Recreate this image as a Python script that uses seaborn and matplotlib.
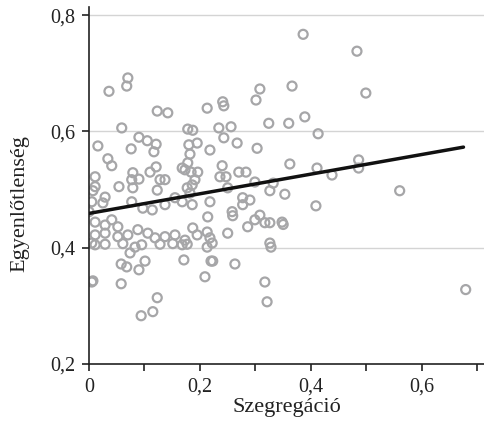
import numpy as np
import pandas as pd
import matplotlib
matplotlib.use("Agg")
import matplotlib.pyplot as plt
import seaborn as sns
from matplotlib.ticker import MultipleLocator, FuncFormatter

# Szegregáció (x) és egyenlőtlenség (y) értékek
szegregacio = [
    0.036, 0.070, 0.068, 0.123, 0.142, 0.059, 0.213, 0.241, 0.243, 0.308,
    0.301, 0.366, 0.324, 0.360, 0.234, 0.256, 0.386, 0.483, 0.499, 0.389,
    0.178, 0.187, 0.413,
    0.016, 0.090, 0.105, 0.121, 0.117, 0.076, 0.034, 0.041, 0.180, 0.195,
    0.182, 0.218, 0.243, 0.267, 0.303, 0.011, 0.011, 0.054, 0.079, 0.077,
    0.090, 0.079, 0.110, 0.121, 0.128, 0.137, 0.123, 0.168, 0.173, 0.178,
    0.184, 0.196, 0.191, 0.240, 0.236, 0.247, 0.270, 0.283, 0.299, 0.362,
    0.411, 0.438, 0.486, 0.486, 0.332, 0.326, 0.353, 0.560, 0.409, 0.250,
    0.186, 0.177, 0.007,
    0.000, 0.005, 0.029, 0.025, 0.077, 0.097, 0.114, 0.137, 0.155, 0.168,
    0.186, 0.182, 0.218, 0.277, 0.290, 0.277, 0.348, 0.350, 0.326, 0.214,
    0.258, 0.259, 0.308, 0.299, 0.286, 0.317, 0.011, 0.029, 0.041, 0.052,
    0.011, 0.029, 0.052, 0.070, 0.088, 0.106, 0.119, 0.137, 0.155, 0.173,
    0.187, 0.195, 0.213, 0.218, 0.250, 0.005, 0.011, 0.029, 0.061, 0.095,
    0.128, 0.151, 0.168, 0.177, 0.326, 0.222, 0.213, 0.328,
    0.007, 0.005, 0.058, 0.058, 0.068, 0.090, 0.101, 0.074, 0.083, 0.171,
    0.209, 0.220, 0.223, 0.263, 0.317, 0.321, 0.123, 0.115, 0.094, 0.679,
]
egyenlotlenseg = [
    0.669, 0.692, 0.678, 0.635, 0.632, 0.606, 0.640, 0.651, 0.644, 0.673,
    0.654, 0.678, 0.614, 0.614, 0.606, 0.608, 0.767, 0.738, 0.666, 0.625,
    0.604, 0.602, 0.596,
    0.575, 0.590, 0.584, 0.578, 0.565, 0.570, 0.553, 0.541, 0.577, 0.580,
    0.561, 0.568, 0.589, 0.580, 0.571, 0.522, 0.505, 0.505, 0.529, 0.517,
    0.518, 0.503, 0.530, 0.539, 0.517, 0.517, 0.499, 0.537, 0.534, 0.546,
    0.530, 0.530, 0.517, 0.541, 0.522, 0.522, 0.530, 0.530, 0.513, 0.544,
    0.537, 0.525, 0.551, 0.537, 0.511, 0.498, 0.492, 0.498, 0.472, 0.503,
    0.508, 0.503, 0.498,
    0.462, 0.479, 0.487, 0.477, 0.479, 0.468, 0.465, 0.474, 0.486, 0.479,
    0.474, 0.494, 0.479, 0.486, 0.482, 0.474, 0.444, 0.440, 0.443, 0.453,
    0.462, 0.455, 0.456, 0.448, 0.436, 0.443, 0.444, 0.439, 0.448, 0.436,
    0.422, 0.425, 0.419, 0.422, 0.431, 0.425, 0.417, 0.419, 0.422, 0.413,
    0.434, 0.422, 0.427, 0.417, 0.425, 0.408, 0.405, 0.406, 0.407, 0.405,
    0.406, 0.407, 0.405, 0.406, 0.408, 0.408, 0.401, 0.401,
    0.343, 0.341, 0.338, 0.372, 0.367, 0.362, 0.377, 0.391, 0.401, 0.379,
    0.350, 0.377, 0.377, 0.372, 0.341, 0.307, 0.314, 0.290, 0.283, 0.328,
]

# illesztett egyenes végpontjai
illesztes_x = [0.0, 0.675]
illesztes_y = [0.459, 0.573]

df = pd.DataFrame({"Szegregáció": szegregacio, "Egyenlőtlenség": egyenlotlenseg})
fit_df = pd.DataFrame({"x": illesztes_x, "y": illesztes_y})

sns.set_style("white")
plt.rcParams["font.family"] = ["Liberation Serif", "DejaVu Serif"]

fig = plt.figure(figsize=(4.84, 4.33), dpi=100)
ax = fig.add_axes([89 / 484, 69 / 433, 1 - 89 / 484, (364 - 7) / 433])

ax.axhline(0.4, color="#d4d4d4", lw=1.0, zorder=0)
ax.axhline(0.6, color="#d4d4d4", lw=1.0, zorder=0)
ax.axhline(0.8, color="#d4d4d4", lw=1.0, zorder=0)

sns.scatterplot(data=df, x="Szegregáció", y="Egyenlőtlenség", ax=ax,
                marker="o", s=42, facecolor="none", edgecolor="#a6a6a8",
                linewidth=1.6, zorder=2)
sns.lineplot(data=fit_df, x="x", y="y", ax=ax, color="#111111", lw=2.5, zorder=3)

ax.set_xlim(0, 0.712)
ax.set_ylim(0.2, 0.814)
ax.xaxis.set_major_locator(MultipleLocator(0.2))
ax.xaxis.set_minor_locator(MultipleLocator(0.1))
ax.yaxis.set_major_locator(MultipleLocator(0.2))

fmt = FuncFormatter(lambda v, p: "0" if abs(v) < 1e-9 else f"{v:.1f}".replace(".", ","))
ax.xaxis.set_major_formatter(fmt)
ax.yaxis.set_major_formatter(fmt)

for side in ["top", "right"]:
    ax.spines[side].set_visible(False)
for side in ["left", "bottom"]:
    ax.spines[side].set_color("#222222")
    ax.spines[side].set_linewidth(1.2)

ax.tick_params(axis="both", which="both", direction="out", color="#222222",
               labelsize=14.5, labelcolor="#222222", bottom=True, left=True)
ax.tick_params(axis="both", which="major", length=5, width=1.2, pad=5)
ax.tick_params(axis="x", which="minor", length=5, width=1.2)

ax.set_xlabel("Szegregáció", fontsize=16, color="#222222", labelpad=1)
ax.set_ylabel("Egyenlőtlenség", fontsize=16, color="#222222")
ax.yaxis.set_label_coords(-0.15, 0.45)

fig.savefig("out.png", dpi=100)
